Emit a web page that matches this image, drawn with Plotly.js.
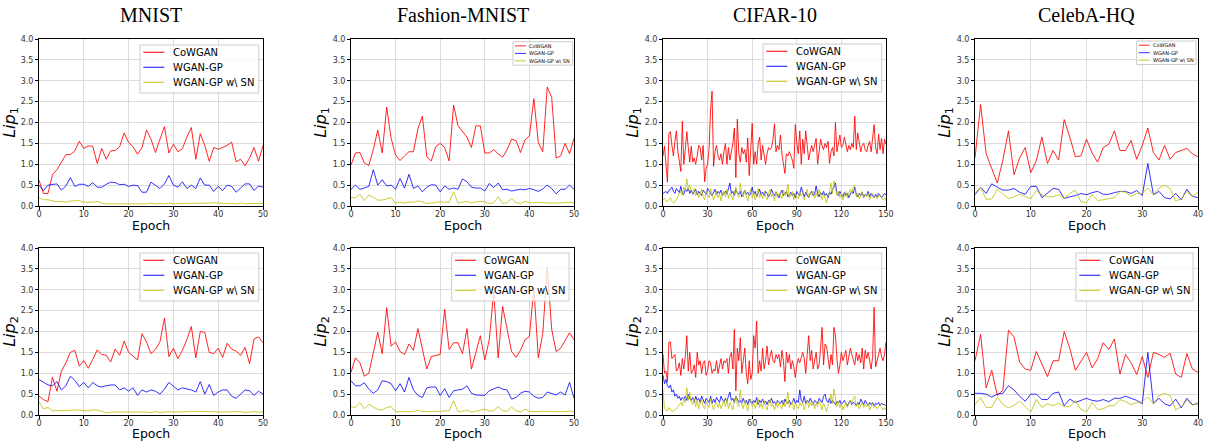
<!DOCTYPE html>
<html>
<head>
<meta charset="utf-8">
<script src="https://cdn.plot.ly/plotly-3.0.1.min.js"></script>
<style>html,body{margin:0;padding:0;background:#fff;}#chart{width:1205px;height:444px;}</style>
</head>
<body>
<div id="chart"></div>
<script>
// ---------- Data ----------
const datasetTitles = ["MNIST", "Fashion-MNIST", "CIFAR-10", "CelebA-HQ"];
const seriesNames = ["CoWGAN", "WGAN-GP", "WGAN-GP w\\ SN"];
const xAxisLabel = "Epoch";
const xTickStep = [10, 10, 30, 10];
const xMax = [50, 50, 150, 40];

// MNIST
const mnistLip1CoWGAN = [0.62,0.3,0.3,0.75,0.87,1.05,1.23,1.23,1.32,1.55,1.38,1.44,1.43,1.02,1.38,1.12,1.32,1.33,1.42,1.75,1.52,1.42,1.24,1.4,1.82,1.6,1.28,1.6,1.9,1.27,1.48,1.3,1.37,1.65,1.88,1.12,1.73,1.45,1.07,1.4,1.36,1.4,1.45,1.53,1.06,1.12,0.96,1.15,1.4,1.07,1.45];
const mnistLip1WGANGP = [0.5,0.37,0.5,0.52,0.53,0.38,0.48,0.68,0.47,0.52,0.52,0.47,0.56,0.45,0.45,0.52,0.57,0.56,0.51,0.52,0.47,0.5,0.49,0.33,0.33,0.57,0.5,0.42,0.53,0.73,0.5,0.45,0.58,0.42,0.5,0.42,0.67,0.5,0.5,0.35,0.47,0.37,0.5,0.47,0.33,0.43,0.53,0.53,0.37,0.48,0.45];
const mnistLip1SN = [0.2,0.15,0.15,0.13,0.1,0.11,0.09,0.12,0.13,0.13,0.09,0.09,0.09,0.11,0.07,0.05,0.05,0.06,0.06,0.05,0.06,0.06,0.06,0.05,0.05,0.07,0.05,0.06,0.05,0.07,0.05,0.06,0.06,0.06,0.07,0.07,0.06,0.06,0.07,0.08,0.07,0.06,0.06,0.06,0.05,0.07,0.05,0.06,0.06,0.06,0.06];
const mnistLip2CoWGAN = [0.45,0.37,0.32,0.9,0.57,1.05,1.25,1.5,1.55,1.17,1.3,1.12,1.33,1.56,1.45,1.43,1.27,1.58,1.43,1.77,1.5,1.4,1.32,1.95,1.75,1.47,1.57,1.75,2.32,1.4,1.6,1.35,1.55,1.8,2.12,1.37,2.0,1.98,1.5,1.47,1.6,1.38,1.72,1.58,1.53,1.43,1.62,1.23,1.82,1.87,1.73];
const mnistLip2WGANGP = [0.85,0.78,0.72,0.7,0.8,0.6,0.7,0.93,0.83,0.68,0.78,0.65,0.78,0.7,0.67,0.7,0.72,0.72,0.6,0.65,0.57,0.65,0.47,0.6,0.55,0.6,0.57,0.5,0.62,0.78,0.68,0.6,0.65,0.63,0.6,0.55,0.8,0.5,0.73,0.47,0.55,0.6,0.6,0.45,0.4,0.5,0.6,0.58,0.47,0.57,0.5];
const mnistLip2SN = [0.32,0.15,0.18,0.1,0.11,0.1,0.11,0.12,0.12,0.12,0.1,0.1,0.12,0.12,0.08,0.05,0.07,0.07,0.07,0.07,0.07,0.08,0.07,0.07,0.07,0.06,0.08,0.06,0.07,0.08,0.07,0.07,0.07,0.08,0.09,0.09,0.09,0.09,0.09,0.08,0.07,0.07,0.07,0.07,0.07,0.08,0.06,0.07,0.08,0.07,0.07];

// Fashion-MNIST
const fashionLip1CoWGAN = [0.98,1.27,1.28,1.03,0.97,1.35,1.82,1.27,2.37,1.62,1.22,1.09,1.2,1.3,1.3,1.85,2.15,1.18,1.08,1.42,1.5,1.4,1.08,2.42,1.92,1.78,1.65,1.4,1.92,1.92,1.27,1.27,1.35,1.25,1.17,1.35,1.6,1.57,1.28,1.58,1.68,2.57,1.52,1.3,2.85,2.6,1.15,1.2,1.5,1.25,1.62];
const fashionLip1WGANGP = [0.4,0.5,0.4,0.43,0.47,0.87,0.5,0.63,0.48,0.5,0.4,0.66,0.43,0.76,0.42,0.48,0.34,0.45,0.51,0.5,0.34,0.48,0.4,0.43,0.4,0.65,0.58,0.45,0.43,0.43,0.36,0.54,0.44,0.55,0.39,0.4,0.36,0.38,0.4,0.39,0.42,0.39,0.35,0.41,0.5,0.42,0.29,0.4,0.4,0.5,0.4];
const fashionLip1SN = [0.2,0.2,0.28,0.13,0.26,0.21,0.14,0.14,0.17,0.2,0.07,0.09,0.07,0.09,0.09,0.12,0.1,0.06,0.07,0.09,0.1,0.09,0.09,0.34,0.07,0.09,0.11,0.07,0.1,0.11,0.1,0.06,0.08,0.22,0.06,0.08,0.18,0.08,0.06,0.11,0.08,0.08,0.09,0.08,0.07,0.07,0.07,0.08,0.09,0.09,0.07];
const fashionLip2CoWGAN = [1.02,1.37,1.25,0.93,1.0,1.5,1.98,1.47,2.57,1.65,1.75,1.52,1.45,1.7,1.55,2.07,1.6,1.1,1.4,1.43,1.45,2.53,1.57,1.73,1.73,1.47,2.07,1.1,1.47,1.9,1.32,1.8,2.95,1.37,2.6,2.05,1.52,1.38,1.55,1.8,1.88,3.05,1.37,1.95,3.55,2.05,1.52,1.6,1.78,1.97,1.8];
const fashionLip2WGANGP = [0.82,0.7,0.7,0.77,0.62,0.52,0.6,0.82,0.8,0.75,0.58,0.75,0.55,0.9,0.6,0.47,0.42,0.65,0.67,0.67,0.47,0.63,0.42,0.58,0.6,0.62,0.7,0.52,0.48,0.48,0.47,0.58,0.62,0.67,0.62,0.6,0.38,0.42,0.52,0.57,0.55,0.45,0.4,0.42,0.55,0.52,0.48,0.55,0.48,0.78,0.4];
const fashionLip2SN = [0.2,0.18,0.3,0.15,0.26,0.2,0.13,0.12,0.18,0.2,0.08,0.08,0.08,0.09,0.08,0.12,0.08,0.08,0.09,0.09,0.08,0.1,0.1,0.34,0.08,0.09,0.12,0.07,0.09,0.12,0.14,0.1,0.1,0.2,0.1,0.09,0.19,0.1,0.07,0.14,0.09,0.08,0.09,0.09,0.09,0.08,0.08,0.08,0.09,0.09,0.09];

// CIFAR-10
const cifarLip1CoWGAN = [1.2,1.43,1.0,0.57,1.75,1.78,1.45,1.2,1.55,1.8,1.3,1.1,0.83,2.03,1.0,1.35,1.78,1.4,1.05,1.43,1.05,1.15,1.0,1.2,1.45,1.4,1.1,1.45,0.58,0.9,1.0,1.38,2.3,2.75,0.95,1.3,1.45,1.2,1.1,1.25,1.0,1.3,1.5,1.0,1.4,1.1,1.3,1.5,1.87,0.68,2.08,1.25,1.05,1.4,1.25,1.35,1.05,1.63,0.73,1.4,1.98,1.0,1.3,1.0,1.5,1.65,1.1,1.45,1.2,1.0,1.25,1.4,1.35,1.4,1.6,1.97,1.3,1.45,1.35,1.7,1.25,1.0,0.78,1.25,1.2,1.3,1.2,1.1,0.9,1.95,1.5,1.25,1.8,1.0,1.6,1.25,1.8,1.45,1.1,1.3,1.45,1.3,1.5,1.62,1.0,1.3,1.6,1.45,1.35,1.5,1.4,1.55,1.02,1.3,1.4,1.2,2.0,1.3,1.5,1.7,1.4,1.45,1.65,1.5,1.3,1.45,1.35,1.5,1.4,2.15,1.35,1.75,1.5,1.3,1.45,1.5,1.35,1.3,1.45,1.55,1.3,1.6,1.95,1.4,1.25,1.72,1.35,1.62,1.25,1.6,1.48];
const cifarLip1WGANGP = [0.3,0.32,0.35,0.3,0.38,0.4,0.45,0.35,0.3,0.42,0.38,0.32,0.47,0.3,0.28,0.4,0.35,0.43,0.3,0.38,0.28,0.33,0.4,0.27,0.35,0.3,0.25,0.38,0.33,0.28,0.42,0.35,0.3,0.25,0.32,0.4,0.28,0.35,0.3,0.38,0.25,0.3,0.35,0.28,0.42,0.55,0.3,0.35,0.25,0.4,0.32,0.28,0.35,0.22,0.3,0.38,0.28,0.33,0.25,0.3,0.45,0.28,0.35,0.22,0.3,0.4,0.27,0.33,0.25,0.35,0.3,0.22,0.28,0.4,0.3,0.25,0.33,0.28,0.2,0.3,0.38,0.25,0.3,0.35,0.22,0.28,0.33,0.25,0.3,0.2,0.35,0.28,0.25,0.45,0.3,0.22,0.33,0.28,0.2,0.3,0.35,0.25,0.28,0.48,0.3,0.22,0.32,0.27,0.35,0.25,0.3,0.2,0.33,0.28,0.4,0.45,0.55,0.3,0.25,0.35,0.28,0.22,0.32,0.25,0.3,0.2,0.28,0.35,0.3,0.45,0.28,0.22,0.3,0.25,0.33,0.2,0.28,0.25,0.35,0.22,0.3,0.25,0.2,0.28,0.22,0.3,0.25,0.2,0.25,0.3,0.27];
const cifarLip1SN = [0.15,0.18,0.12,0.1,0.15,0.2,0.12,0.08,0.1,0.15,0.22,0.3,0.35,0.25,0.45,0.38,0.65,0.4,0.5,0.35,0.3,0.42,0.25,0.35,0.2,0.3,0.4,0.22,0.15,0.35,0.28,0.2,0.42,0.3,0.15,0.25,0.35,0.2,0.3,0.12,0.28,0.35,0.22,0.4,0.18,0.3,0.25,0.15,0.35,0.45,0.28,0.2,0.55,0.3,0.22,0.38,0.25,0.12,0.3,0.4,0.2,0.33,0.15,0.25,0.42,0.2,0.3,0.18,0.35,0.25,0.15,0.3,0.4,0.22,0.28,0.12,0.35,0.2,0.3,0.25,0.18,0.38,0.25,0.3,0.52,0.2,0.28,0.35,0.15,0.3,0.22,0.18,0.35,0.25,0.3,0.15,0.28,0.4,0.2,0.3,0.25,0.35,0.18,0.3,0.22,0.4,0.28,0.15,0.3,0.2,0.07,0.25,0.35,0.55,0.3,0.6,0.45,0.25,0.35,0.2,0.3,0.15,0.25,0.35,0.2,0.28,0.4,0.3,0.45,0.5,0.22,0.3,0.18,0.25,0.35,0.2,0.28,0.22,0.3,0.15,0.25,0.3,0.2,0.25,0.18,0.22,0.28,0.2,0.15,0.2,0.13];
const cifarLip2CoWGAN = [1.45,1.0,1.05,0.8,1.75,1.75,1.35,1.4,1.45,1.05,1.1,1.25,0.95,1.35,1.1,1.4,1.9,1.05,1.5,1.0,1.05,1.2,0.9,1.5,1.2,1.3,1.0,1.25,1.3,0.95,1.05,1.3,1.25,1.0,1.1,1.05,1.3,1.0,1.2,1.35,1.1,1.3,1.25,1.35,1.0,1.4,1.5,1.1,2.05,0.58,1.6,1.3,1.85,1.0,1.3,1.6,1.0,0.75,1.3,0.85,1.0,1.9,1.6,2.25,1.0,1.3,1.05,1.6,1.1,1.3,1.65,1.2,1.4,1.55,1.3,1.25,1.45,1.35,1.45,1.15,1.55,1.3,0.8,1.5,1.25,1.45,1.1,1.3,1.15,0.9,1.2,1.35,1.25,1.4,1.5,1.35,1.0,1.45,1.9,1.3,1.55,1.1,1.35,1.5,1.1,1.2,1.6,2.1,1.2,1.7,1.65,1.3,1.1,1.45,1.2,2.1,1.9,1.35,1.0,1.2,1.5,1.3,1.4,1.55,1.2,1.4,1.6,1.45,1.3,1.2,1.5,1.3,1.45,1.25,1.6,1.1,1.55,1.35,1.5,1.25,1.1,1.4,2.58,1.15,1.3,1.45,1.6,1.4,1.3,1.45,1.75];
const cifarLip2WGANGP = [0.95,0.75,0.85,0.7,0.65,0.72,0.55,0.6,0.45,0.5,0.4,0.45,0.35,0.42,0.38,0.45,0.35,0.5,0.4,0.35,0.42,0.3,0.45,0.35,0.4,0.3,0.45,0.35,0.28,0.4,0.35,0.3,0.45,0.28,0.38,0.3,0.42,0.35,0.3,0.45,0.35,0.3,0.4,0.32,0.45,0.55,0.35,0.4,0.3,0.45,0.38,0.3,0.35,0.28,0.4,0.3,0.35,0.25,0.38,0.3,0.28,0.35,0.3,0.42,0.25,0.35,0.3,0.38,0.28,0.33,0.25,0.35,0.3,0.4,0.28,0.32,0.25,0.35,0.3,0.28,0.35,0.25,0.38,0.3,0.28,0.35,0.25,0.3,0.4,0.28,0.35,0.3,0.6,0.35,0.3,0.45,0.28,0.35,0.3,0.4,0.32,0.25,0.35,0.3,0.28,0.4,0.35,0.3,0.45,0.5,0.35,0.3,0.4,0.28,0.35,0.3,0.25,0.33,0.28,0.35,0.25,0.3,0.35,0.28,0.22,0.3,0.35,0.25,0.3,0.28,0.22,0.3,0.25,0.38,0.3,0.25,0.35,0.28,0.22,0.3,0.25,0.3,0.22,0.28,0.25,0.3,0.22,0.28,0.25,0.25,0.22];
const cifarLip2SN = [0.6,0.15,0.12,0.1,0.18,0.12,0.08,0.1,0.12,0.15,0.2,0.25,0.3,0.22,0.4,0.3,0.65,0.35,0.55,0.3,0.25,0.4,0.2,0.35,0.15,0.3,0.38,0.2,0.15,0.32,0.25,0.18,0.4,0.28,0.12,0.25,0.3,0.18,0.28,0.15,0.25,0.35,0.2,0.38,0.15,0.3,0.22,0.12,0.35,0.45,0.25,0.2,0.6,0.25,0.15,0.35,0.22,0.1,0.3,0.38,0.2,0.3,0.15,0.25,0.4,0.18,0.28,0.15,0.35,0.22,0.12,0.3,0.38,0.2,0.25,0.12,0.3,0.18,0.28,0.22,0.15,0.35,0.2,0.3,0.55,0.18,0.25,0.32,0.12,0.28,0.2,0.15,0.3,0.22,0.28,0.12,0.25,0.35,0.18,0.3,0.22,0.32,0.15,0.28,0.2,0.35,0.25,0.12,0.28,0.18,0.08,0.22,0.3,0.5,0.28,0.62,0.4,0.2,0.3,0.18,0.28,0.12,0.22,0.3,0.18,0.25,0.35,0.28,0.4,0.45,0.2,0.28,0.15,0.22,0.3,0.18,0.25,0.2,0.28,0.12,0.22,0.28,0.18,0.22,0.15,0.2,0.25,0.18,0.12,0.18,0.12];

// CelebA-HQ
const celebaLip1CoWGAN = [1.15,2.43,1.25,0.9,0.55,1.1,1.8,0.75,1.15,1.4,0.8,1.08,1.65,1.02,1.33,1.1,2.07,1.65,1.18,1.2,1.6,1.27,1.05,1.4,1.48,1.8,1.33,1.33,1.57,1.12,1.45,1.87,1.28,1.1,1.45,1.12,1.28,1.33,1.38,1.25,1.18];
const celebaLip1WGANGP = [0.27,0.45,0.3,0.53,0.45,0.38,0.38,0.42,0.33,0.28,0.47,0.47,0.2,0.32,0.42,0.4,0.18,0.22,0.25,0.3,0.27,0.32,0.35,0.28,0.28,0.32,0.35,0.35,0.3,0.37,0.25,1.02,0.27,0.35,0.2,0.17,0.3,0.15,0.4,0.23,0.2];
const celebaLip1SN = [0.3,0.45,0.16,0.17,0.4,0.28,0.18,0.22,0.28,0.23,0.17,0.37,0.27,0.22,0.22,0.27,0.18,0.3,0.38,0.1,0.08,0.28,0.13,0.15,0.18,0.2,0.35,0.33,0.23,0.3,0.3,0.43,0.27,0.43,0.5,0.42,0.12,0.17,0.35,0.22,0.33];
const celebaLip2CoWGAN = [1.3,1.93,0.65,1.07,0.47,0.6,2.03,1.87,1.27,1.1,1.07,1.52,1.22,0.92,1.3,1.3,2.0,1.6,1.07,1.27,1.5,1.13,1.35,1.73,1.57,1.82,0.98,1.45,1.25,0.97,1.4,0.9,1.5,1.45,1.38,1.48,0.98,0.9,1.47,1.1,1.02];
const celebaLip2WGANGP = [0.52,0.52,0.5,0.43,0.5,0.52,0.7,0.6,0.45,0.33,0.5,0.5,0.37,0.37,0.52,0.55,0.22,0.38,0.3,0.35,0.4,0.35,0.33,0.37,0.32,0.4,0.4,0.45,0.4,0.35,0.27,1.5,0.27,0.4,0.27,0.22,0.38,0.17,0.4,0.25,0.27];
const celebaLip2SN = [0.25,0.42,0.18,0.18,0.43,0.25,0.17,0.23,0.33,0.2,0.07,0.37,0.18,0.27,0.22,0.28,0.2,0.2,0.35,0.13,0.08,0.3,0.13,0.15,0.22,0.23,0.37,0.32,0.25,0.3,0.32,0.43,0.27,0.47,0.52,0.47,0.12,0.2,0.35,0.23,0.3];

const panels = [
  [mnistLip1CoWGAN, mnistLip1WGANGP, mnistLip1SN],
  [fashionLip1CoWGAN, fashionLip1WGANGP, fashionLip1SN],
  [cifarLip1CoWGAN, cifarLip1WGANGP, cifarLip1SN],
  [celebaLip1CoWGAN, celebaLip1WGANGP, celebaLip1SN],
  [mnistLip2CoWGAN, mnistLip2WGANGP, mnistLip2SN],
  [fashionLip2CoWGAN, fashionLip2WGANGP, fashionLip2SN],
  [cifarLip2CoWGAN, cifarLip2WGANGP, cifarLip2SN],
  [celebaLip2CoWGAN, celebaLip2WGANGP, celebaLip2SN]
];

// ---------- Layout / styling ----------
const W = 1205, H = 444;
const colors = ["rgba(255,0,0,0.85)", "rgba(0,0,255,0.8)", "rgba(191,191,0,0.8)"];
const colLeft = [39, 351, 663, 975], colRight = [263, 574, 886, 1198];
const rowTop = [39, 248], rowBottom = [206, 415];
const epochLabelY = [225, 433];
// legend boxes: [left px, top px, right px, small?]
const legendBox = [
  [140, 45, 258.7, false], [513, 41.7, 572.7, true], [763, 44, 881.7, false], [1136.7, 41, 1196, true],
  [140, 253, 258.7, false], [451.7, 253, 569, false], [763, 253, 881.7, false], [1076, 253, 1193, false]
];
const legendBig = {height: 48, row0: 7.3, rowGap: 15, lineStart: 3.3, lineLen: 21, textX: 31.5, font: 10};
const legendSmall = {height: 23.5, row0: 4.2, rowGap: 7.5, lineStart: 2, lineLen: 11, textX: 15, font: 5};

const px = v => v / W, py = v => (H - v) / H;

const traces = [];
const layout = {
  width: W, height: H,
  margin: {l: 0, r: 0, t: 0, b: 0},
  paper_bgcolor: "#fff", plot_bgcolor: "#fff",
  font: {family: "DejaVu Sans", color: "#333"},
  showlegend: false,
  annotations: [],
  shapes: []
};

for (let p = 0; p < 8; p++) {
  const row = p < 4 ? 0 : 1, col = p % 4;
  const ax = p === 0 ? "" : String(p + 1);
  panels[p].forEach((ys, s) => {
    traces.push({
      type: "scatter", mode: "lines",
      x: ys.map((_, i) => i), y: ys,
      name: seriesNames[s],
      line: {color: colors[s], width: 1},
      xaxis: "x" + ax, yaxis: "y" + ax,
      hoverinfo: "skip"
    });
  });
  layout["xaxis" + ax] = {
    domain: [px(colLeft[col]), px(colRight[col])], anchor: "y" + ax,
    range: [0, xMax[col]], dtick: xTickStep[col], tick0: 0,
    showgrid: true, gridcolor: "#dcdcdc", gridwidth: 1,
    showline: true, mirror: true, linecolor: "#000", linewidth: 1,
    ticks: "outside", ticklen: 3, tickcolor: "#000", ticklabelstandoff: -3,
    tickfont: {size: 8, color: "#333", family: "DejaVu Sans"},
    zeroline: false
  };
  layout["yaxis" + ax] = {
    domain: [py(rowBottom[row]), py(rowTop[row])], anchor: "x" + ax,
    range: [0, 4], dtick: 0.5, tick0: 0, tickformat: ".1f",
    showgrid: true, gridcolor: "#dcdcdc", gridwidth: 1,
    showline: true, mirror: true, linecolor: "#000", linewidth: 1,
    ticks: "outside", ticklen: 3, tickcolor: "#000",
    tickfont: {size: 8, color: "#333", family: "DejaVu Sans"},
    zeroline: false,
    title: {text: "<i>Lip</i><sub>" + (row + 1) + "</sub>", font: {size: 16, color: "#000", family: "DejaVu Sans"}, standoff: 2}
  };

  // x-axis label
  layout.annotations.push({
    text: xAxisLabel, xref: "paper", yref: "paper",
    x: px((colLeft[col] + colRight[col]) / 2), y: py(epochLabelY[row]),
    xanchor: "center", yanchor: "middle", showarrow: false, borderpad: 0,
    font: {family: "DejaVu Sans", size: 12.5, color: "#000"}
  });

  // legend box (matplotlib-style, drawn on top of the lines)
  const [L, T, R, small] = legendBox[p];
  const g = small ? legendSmall : legendBig;
  layout.shapes.push({
    type: "rect", xref: "paper", yref: "paper", layer: "above",
    x0: px(L), x1: px(R), y0: py(T + g.height), y1: py(T),
    fillcolor: "rgba(255,255,255,0.8)", line: {color: "#cccccc", width: 1}
  });
  seriesNames.forEach((nm, s) => {
    const yy = T + g.row0 + s * g.rowGap;
    layout.shapes.push({
      type: "line", xref: "paper", yref: "paper", layer: "above",
      x0: px(L + g.lineStart), x1: px(L + g.lineStart + g.lineLen), y0: py(yy), y1: py(yy),
      line: {color: colors[s], width: small ? 1 : 1.2}
    });
    layout.annotations.push({
      text: nm, xref: "paper", yref: "paper", x: px(L + g.textX), y: py(yy),
      xanchor: "left", yanchor: "middle", showarrow: false, borderpad: 0,
      font: {family: "DejaVu Sans", size: g.font, color: "#000"}
    });
  });

  if (row === 0) {
    layout.annotations.push({
      text: datasetTitles[col], xref: "paper", yref: "paper",
      x: px((colLeft[col] + colRight[col]) / 2), y: py(15),
      xanchor: "center", yanchor: "middle", showarrow: false,
      font: {family: "Liberation Serif", size: 20, color: "#000"}
    });
  }
}

Plotly.newPlot("chart", traces, layout, {displayModeBar: false, staticPlot: true});
</script>
</body>
</html>
